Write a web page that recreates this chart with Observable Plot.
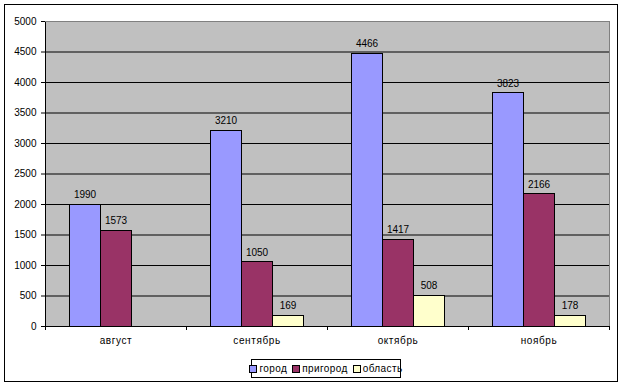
<!DOCTYPE html>
<html><head><meta charset="utf-8">
<script src="https://cdn.jsdelivr.net/npm/d3@7"></script>
<script src="https://cdn.jsdelivr.net/npm/@observablehq/plot@0.6"></script>
<style>
body{margin:0;background:#fff;font-family:"Liberation Sans",Arial,sans-serif;}
#wrap{position:relative;width:624px;height:387px;overflow:hidden;}
#chart{position:absolute;left:0;top:0;}
#border{position:absolute;left:4px;top:4px;width:614px;height:378px;border:1px solid #000;box-sizing:border-box;}
#legend{position:absolute;left:251px;top:359px;width:150px;height:19px;border:1px solid #000;box-sizing:border-box;background:#fff;display:flex;align-items:center;justify-content:center;gap:5px;font-size:10px;letter-spacing:0.4px;}
#legend span.sw{display:inline-block;width:6px;height:6px;border:1px solid #000;margin-right:2px;vertical-align:middle;}
#legend .it{display:flex;align-items:center;white-space:nowrap;}
</style></head>
<body>
<div id="wrap"><div id="chart"></div><div id="border"></div><div id="legend"></div></div>
<script>
const months = ["август", "сентябрь", "октябрь", "ноябрь"];
const series = ["город", "пригород", "область"];
const colors = ["#9999FF", "#993366", "#FFFFCC"];
const gorod = [1990, 3210, 4466, 3823];
const prigorod = [1573, 1050, 1417, 2166];
const oblast = [null, 169, 508, 178];
const yTicks = [0, 500, 1000, 1500, 2000, 2500, 3000, 3500, 4000, 4500, 5000];
const gridTicks = [500, 1000, 1500, 2000, 2500, 3000, 3500, 4000, 4500];

const values = [gorod, prigorod, oblast];
const rows = [];
months.forEach((m, i) => series.forEach((s, j) => {
  const v = values[j][i];
  if (v != null) rows.push({month: m, series: s, value: v});
}));

const plot = Plot.plot({
  width: 624, height: 352,
  marginLeft: 44, marginRight: 14, marginTop: 21, marginBottom: 26,
  style: {fontFamily: "'Liberation Sans', Arial, sans-serif", fontSize: "10px", background: "transparent", overflow: "visible"},
  fx: {domain: months, padding: 0, axis: "bottom", tickSize: 0, tickPadding: 10, label: null},
  x: {domain: series, paddingInner: 0, paddingOuter: 0.746, axis: null},
  y: {domain: [0, 5000], ticks: yTicks, tickSize: 4, tickPadding: 5, line: true, label: null, tickFormat: d => String(d)},
  color: {domain: series, range: colors},
  marks: [
    Plot.ruleY(gridTicks, {stroke: "#000", strokeWidth: 1}),
    Plot.ruleY([5000], {stroke: "#808080"}),
    Plot.barY(rows, {fx: "month", x: "series", y: "value", fill: "series", stroke: "#000", strokeWidth: 1, shapeRendering: "crispEdges"}),
    Plot.ruleY([0], {stroke: "#000"}),
    Plot.text(rows, {fx: "month", x: "series", y: "value", text: d => String(d.value), dy: -10, fill: "#000", fontSize: 10})
  ]
});
document.getElementById("chart").appendChild(plot);

// plot-area background, category boundary ticks and right border via the library's scales
const fx = plot.scale("fx");
const ys = plot.scale("y");
const svg = d3.select(plot);
const xLeft = fx.apply(months[0]);
const xRight = fx.apply(months[months.length - 1]) + fx.bandwidth;
const edges = months.map(m => fx.apply(m)).concat([xRight]);
const y0 = ys.apply(0), yTop = ys.apply(5000);
svg.insert("rect", ":first-child")
  .attr("x", xLeft).attr("y", yTop).attr("width", xRight - xLeft).attr("height", y0 - yTop)
  .attr("fill", "#c0c0c0");
svg.append("line").attr("x1", xRight).attr("x2", xRight)
  .attr("y1", yTop).attr("y2", y0).attr("stroke", "#808080").attr("shape-rendering", "crispEdges");
edges.forEach(x => {
  svg.append("line").attr("x1", x).attr("x2", x).attr("y1", y0).attr("y2", y0 + 4).attr("stroke", "#000").attr("shape-rendering", "crispEdges");
});
svg.selectAll("g[aria-label='fx-axis tick label'] text").style("letter-spacing", "0.6px");

// legend
const lg = document.getElementById("legend");
series.forEach((s, j) => {
  const it = document.createElement("span");
  it.className = "it";
  it.innerHTML = `<span class="sw" style="background:${colors[j]}"></span>${s}`;
  lg.appendChild(it);
});
</script>
</body></html>
